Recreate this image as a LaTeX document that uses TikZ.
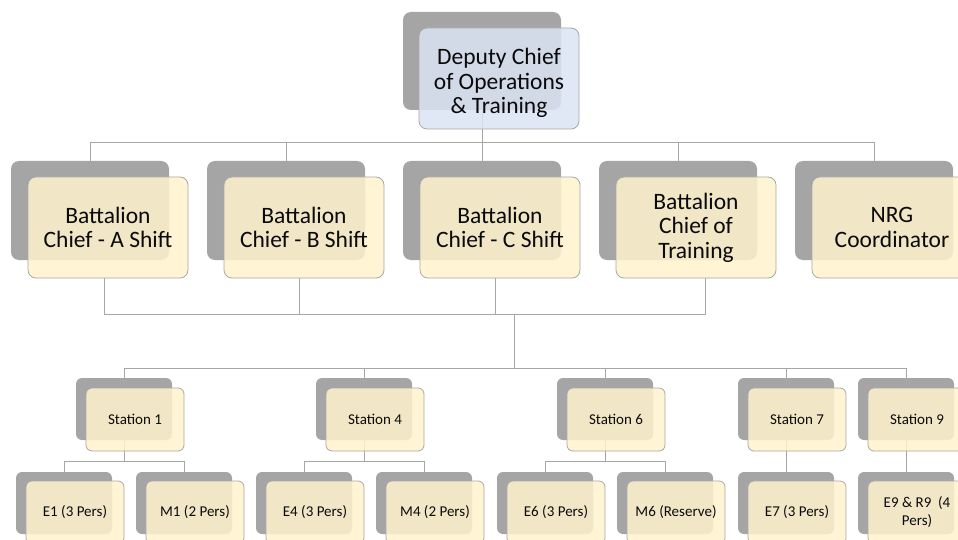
\documentclass[tikz,border=0pt]{standalone}
\usepackage{fontspec}
\setmainfont{Carlito}
\pgfdeclarelayer{background}
\pgfsetlayers{background,main}

\definecolor{shgray}{HTML}{A5A5A5}
\definecolor{edgegray}{HTML}{A8A8A8}
\definecolor{linkgray}{HTML}{A6A6A6}
\definecolor{cream}{HTML}{FFF2CC}
\definecolor{paleblue}{HTML}{DAE3F3}
\definecolor{ink}{HTML}{0A0A0A}

\tikzset{
  shadbig/.style={fill=shgray, rounded corners=8pt, minimum width=158pt,
    minimum height=99pt, anchor=north west, inner sep=0pt, outer sep=0pt},
  frontbig/.style={fill=cream, fill opacity=0.85, text opacity=1, text=ink,
    draw=edgegray, line width=0.8pt, rounded corners=8pt, minimum width=160pt,
    minimum height=101pt, anchor=north west, inner sep=0pt, outer sep=0pt,
    align=center, font=\fontsize{23.5}{24.5}\selectfont},
  shadsmall/.style={fill=shgray, rounded corners=6pt, minimum width=96pt,
    minimum height=62pt, anchor=north west, inner sep=0pt, outer sep=0pt},
  frontsmall/.style={fill=cream, fill opacity=0.85, text opacity=1, text=ink,
    draw=edgegray, line width=0.8pt, rounded corners=6pt, minimum width=98pt,
    minimum height=63pt, anchor=north west, inner sep=0pt, outer sep=0pt,
    align=center, font=\fontsize{15}{18}\selectfont},
  link/.style={draw=linkgray, line width=1pt}
}

\begin{document}
\begin{tikzpicture}[x=1pt, y=-1pt]
  \useasboundingbox (0,0) rectangle (958,540);
  \clip (0,0) rectangle (958,540);

  % head of the organisation (text sits a little low in its box)
  \node[shadbig, minimum height=98pt] (topS) at (403,12) {};
  \node[frontbig, fill=paleblue] (topF) at (419,28)
    {\raisebox{-6pt}[\height][\depth]{\begin{tabular}{@{}c@{}}Deputy Chief\\of Operations\\\& Training\end{tabular}}};

  % second level
  \node[shadbig] (aS) at (11,161) {};
  \node[frontbig] (aF) at (28,177) {Battalion\\Chief - A Shift};
  \node[shadbig] (bS) at (207,161) {};
  \node[frontbig] (bF) at (224,177) {Battalion\\Chief - B Shift};
  \node[shadbig] (cS) at (403,161) {};
  \node[frontbig] (cF) at (420,177) {Battalion\\Chief - C Shift};
  \node[shadbig] (tS) at (599,161) {};
  \node[frontbig] (tF) at (616,177) {Battalion\\Chief of\\Training};
  \node[shadbig] (nS) at (795,161) {};
  \node[frontbig] (nF) at (812,177) {NRG\\Coordinator};

  % stations
  \node[shadsmall] (s1S) at (76,378) {};
  \node[frontsmall] (s1F) at (86,388) {Station 1};
  \node[shadsmall] (s4S) at (316,378) {};
  \node[frontsmall] (s4F) at (326,388) {Station 4};
  \node[shadsmall] (s6S) at (557,378) {};
  \node[frontsmall] (s6F) at (567,388) {Station 6};
  \node[shadsmall] (s7S) at (738,378) {};
  \node[frontsmall] (s7F) at (748,388) {Station 7};
  \node[shadsmall] (s9S) at (858,378) {};
  \node[frontsmall] (s9F) at (868,388) {Station 9};

  % apparatus
  \node[shadsmall] (e1S) at (16,472) {};
  \node[frontsmall] (e1F) at (26,481) {E1 (3 Pers)};
  \node[shadsmall] (m1S) at (136,472) {};
  \node[frontsmall] (m1F) at (146,481) {M1 (2 Pers)};
  \node[shadsmall] (e4S) at (256,472) {};
  \node[frontsmall] (e4F) at (266,481) {E4 (3 Pers)};
  \node[shadsmall] (m4S) at (376,472) {};
  \node[frontsmall] (m4F) at (386,481) {M4 (2 Pers)};
  \node[shadsmall] (e6S) at (497,472) {};
  \node[frontsmall] (e6F) at (507,481) {E6 (3 Pers)};
  \node[shadsmall] (m6S) at (617,472) {};
  \node[frontsmall] (m6F) at (627,481) {M6 (Reserve)};
  \node[shadsmall] (e7S) at (738,472) {};
  \node[frontsmall] (e7F) at (748,481) {E7 (3 Pers)};
  \node[shadsmall] (e9S) at (858,472) {};
  \node[frontsmall] (e9F) at (868,481) {E9 \& R9~ (4\\Pers)};

  % connectors, kept underneath the boxes
  \coordinate (bar1) at (482,143);
  \coordinate (bar2) at (514,314);
  \coordinate (bar3) at (514,368);
  \coordinate (j1) at (124,461);
  \coordinate (j4) at (364,461);
  \coordinate (j6) at (605,461);
  \begin{pgfonlayer}{background}
    \draw[link] (topS.south) -- (bar1);
    \foreach \c in {aS,bS,cS,tS,nS}
      \draw[link] (bar1) -| (\c.north);

    \draw[link] ([xshift=-4pt]aF.south) |- (bar2);
    \draw[link] ([xshift=-5pt]bF.south) |- (bar2);
    \draw[link] ([xshift=-5pt]cF.south) |- (bar2);
    \draw[link] ([xshift=9pt]tF.south) |- (bar2);
    \draw[link] (bar2) -- (bar3);
    \foreach \s in {s1S,s4S,s6S,s7S,s9S}
      \draw[link] (bar3) -| (\s.north);

    \draw[link] (s1S.south) -- (j1);
    \draw[link] (j1) -| (e1S.north);
    \draw[link] (j1) -| (m1S.north);
    \draw[link] (s4S.south) -- (j4);
    \draw[link] (j4) -| (e4S.north);
    \draw[link] (j4) -| (m4S.north);
    \draw[link] (s6S.south) -- (j6);
    \draw[link] (j6) -| (e6S.north);
    \draw[link] (j6) -| (m6S.north);
    \draw[link] (s7S.south) -- (e7S.north);
    \draw[link] (s9S.south) -- (e9S.north);
  \end{pgfonlayer}
\end{tikzpicture}
\end{document}
